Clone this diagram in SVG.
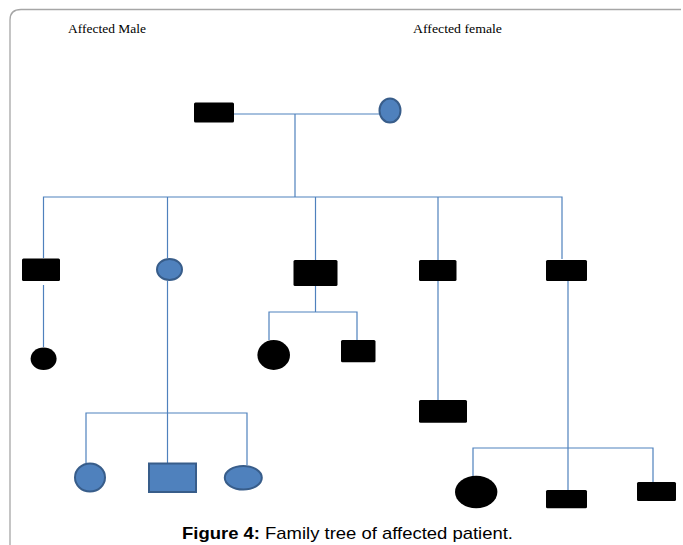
<svg xmlns="http://www.w3.org/2000/svg" width="683" height="545" viewBox="0 0 683 545">
<style>
.ln{stroke:#4F81BD;stroke-width:1.2;fill:none}
.aff{fill:#000}
.blue{fill:#4F81BD;stroke:#385D8A;stroke-width:2}
.lbl{font-family:"Liberation Serif","Times New Roman",serif;font-size:13px;fill:#000}
.cap{font-family:"Liberation Sans",Arial,sans-serif;font-size:17px;fill:#000}
</style>
<rect width="683" height="545" fill="#fff"/>
<path d="M10,545 V20 Q10,9.5 21,9.5 H681" fill="none" stroke="#a6a6a6" stroke-width="1.3"/>
<text class="lbl" x="68" y="33" textLength="78" lengthAdjust="spacingAndGlyphs">Affected Male</text>
<text class="lbl" x="413" y="33" textLength="89" lengthAdjust="spacingAndGlyphs">Affected female</text>
<g id="connectors">
<path class="ln" d="M234,114 H379"/>
<path class="ln" d="M295,114 V197"/>
<path class="ln" d="M43.5,258 V197 H562 V259"/>
<path class="ln" d="M167.5,197 V258"/>
<path class="ln" d="M315.5,197 V260"/>
<path class="ln" d="M438,197 V260"/>
<path class="ln" d="M43.5,285 V347"/>
<path class="ln" d="M167.5,281 V463"/>
<path class="ln" d="M86,463 V413 H247 V465"/>
<path class="ln" d="M315.5,286 V312"/>
<path class="ln" d="M269,340 V312 H357 V340"/>
<path class="ln" d="M438,281 V400"/>
<path class="ln" d="M568,281 V490"/>
<path class="ln" d="M473,476 V448 H653 V482"/>
</g>
<g id="father"><rect class="aff" x="194" y="102.5" width="40" height="20" rx="1.5"/></g>
<g id="mother"><ellipse class="blue" cx="390" cy="110.5" rx="10.5" ry="12"/></g>
<g id="child1"><rect class="aff" x="22" y="258.5" width="38" height="22.5" rx="1.5"/></g>
<g id="child2"><ellipse class="blue" cx="169.5" cy="269.5" rx="12.5" ry="10.5"/></g>
<g id="child3"><rect class="aff" x="293.5" y="260" width="44" height="26" rx="1.5"/></g>
<g id="child4"><rect class="aff" x="419" y="260" width="37.5" height="21" rx="1.5"/></g>
<g id="child5"><rect class="aff" x="546" y="260" width="41" height="21" rx="1.5"/></g>
<g id="gc1"><ellipse class="aff" cx="43.6" cy="358.7" rx="13" ry="11.3"/></g>
<g id="gc3a"><ellipse class="aff" cx="273.7" cy="355" rx="16.3" ry="15"/></g>
<g id="gc3b"><rect class="aff" x="341" y="340" width="34.5" height="22.3" rx="1.5"/></g>
<g id="gc2a"><ellipse class="blue" cx="90" cy="477.5" rx="15" ry="14"/></g>
<g id="gc2b"><rect class="blue" x="149" y="463.5" width="47" height="28.5"/></g>
<g id="gc2c"><ellipse class="blue" cx="243.3" cy="477.7" rx="18.5" ry="11.8"/></g>
<g id="gc4"><rect class="aff" x="419" y="400" width="48" height="22.7" rx="1.5"/></g>
<g id="gc5a"><ellipse class="aff" cx="476.2" cy="492" rx="21.2" ry="16.2"/></g>
<g id="gc5b"><rect class="aff" x="546" y="490" width="41" height="18.3" rx="1.5"/></g>
<g id="gc5c"><rect class="aff" x="637" y="482" width="39" height="19" rx="1.5"/></g>
<text class="cap" x="182" y="539" textLength="331" lengthAdjust="spacingAndGlyphs"><tspan font-weight="bold">Figure 4:</tspan> Family tree of affected patient.</text>
</svg>
